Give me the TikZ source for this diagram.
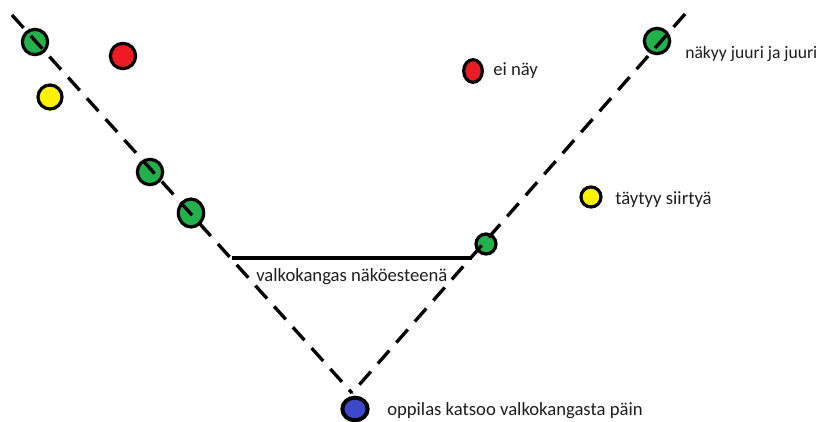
\documentclass[tikz,border=0pt]{standalone}
\usepackage{fontspec}
\setmainfont{Carlito}
\usetikzlibrary{shapes.geometric}
\definecolor{pgreen}{HTML}{22B14C}
\definecolor{pred}{HTML}{ED1C24}
\definecolor{pyellow}{HTML}{FFF200}
\definecolor{pblue}{HTML}{3F48CC}
\definecolor{ink}{HTML}{1E1E1E}
\tikzset{
  sight/.style={line width=2.5pt, dash pattern=on 13pt off 8pt},
  screen/.style={line width=3.3pt},
  dot/.style={circle, draw=black, line width=2.4pt, inner sep=0pt, minimum size=#1},
  dot/.default=19pt,
  note/.style={anchor=west, text=ink, font=\fontsize{14pt}{16pt}\selectfont, inner sep=0pt}
}
\begin{document}
\begin{tikzpicture}[x=0.75pt, y=-0.75pt]
  \useasboundingbox (0,0) rectangle (827,421);

  % line-of-sight geometry
  \coordinate (apex) at (352,393);
  \coordinate (topL) at (12,15);
  \coordinate (topR) at (685,14);
  \coordinate (scrL) at (232,258);
  \coordinate (scrR) at (472,258);

  % markers
  \node[dot, fill=pgreen] (g1) at (35,42) {};
  \node[dot, fill=pgreen] (g2) at (150,172) {};
  \node[dot, fill=pgreen, ellipse, minimum width=19pt, minimum height=21pt] (g3) at (191,213) {};
  \node[dot, fill=pgreen] (g4) at (657,41) {};
  \node[dot=15pt, fill=pgreen] (g5) at (486,244) {};
  \node[dot, fill=pred] (r1) at (123,56) {};
  \node[dot, fill=pred, ellipse, minimum width=14pt, minimum height=17pt] (r2) at (473,71) {};
  \node[dot=18pt, fill=pyellow] (y1) at (50,97) {};
  \node[dot=15pt, fill=pyellow] (y2) at (591,197) {};
  \node[dot, fill=pblue, ellipse, minimum width=19pt, minimum height=17pt, line width=3pt] (viewer) at (355,409) {};

  % sight lines and the screen
  \draw[sight] (topL) -- (apex);
  \draw[sight] (topR) -- (apex);
  \draw[screen] (scrL) -- (scrR);

  % labels
  \node[note] (t1) at (493,71) {ei näy};
  \node[note, font=\fontsize{13.2pt}{15pt}\selectfont] (t2) at (685,54) {näkyy juuri ja juuri};
  \node[note] (t3) at (615,200) {täytyy siirtyä};
  \node[note] (t4) at (256,277) {valkokangas näköesteenä};
  \node[note] (t5) at (387,411) {oppilas katsoo valkokangasta päin};
\end{tikzpicture}
\end{document}
